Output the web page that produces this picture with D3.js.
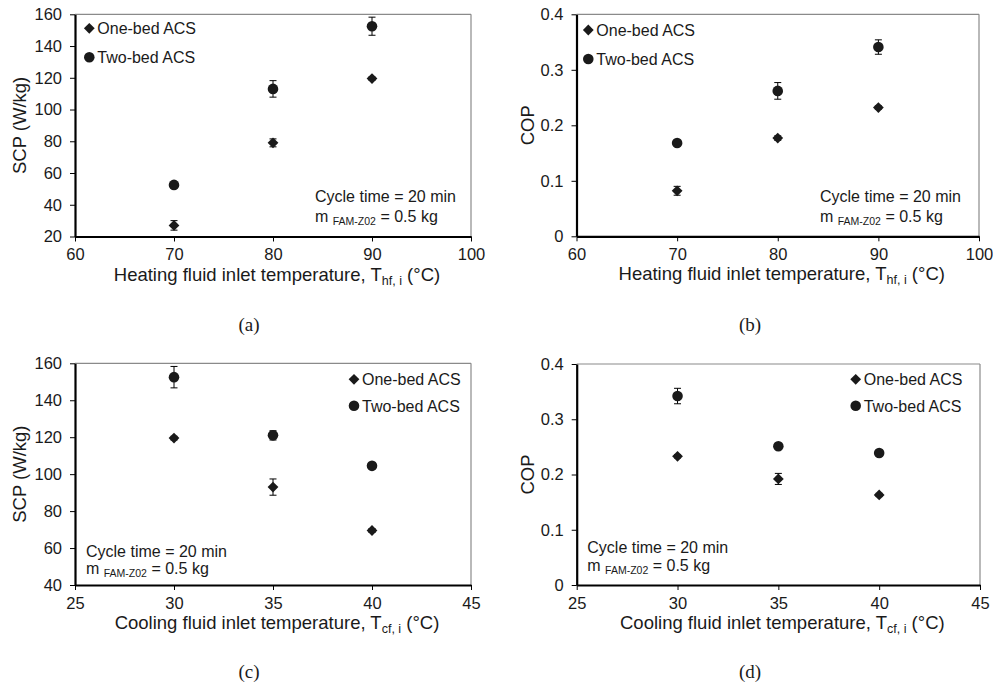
<!DOCTYPE html>
<html>
<head>
<meta charset="utf-8">
<script src="https://cdn.jsdelivr.net/npm/d3@7"></script>
<style>
  body { margin: 0; background: #fff; }
  svg { display: block; font-family: "Liberation Sans", Arial, sans-serif; }
  .tick text { fill: #1a1a1a; }
</style>
</head>
<body>
<div class="chart"></div>
<script>

var svgWidth = 993;
var svgHeight = 686;

// data
var seriesNames = ["One-bed ACS", "Two-bed ACS"];

var heatTemp = [70, 80, 90];
var coolTemp = [30, 35, 40];

var heatTicks = [60, 70, 80, 90, 100];
var coolTicks = [25, 30, 35, 40, 45];
var scpHeatTicks = [20, 40, 60, 80, 100, 120, 140, 160];
var scpCoolTicks = [40, 60, 80, 100, 120, 140, 160];
var copTicks = [0, 0.1, 0.2, 0.3, 0.4];
var copTickLabels = ["0", "0.1", "0.2", "0.3", "0.4"];

var scpHeatOne = [27, 79, 119.5];
var scpHeatOneErr = [3, 2.5, 1];
var scpHeatTwo = [52.5, 113, 152.5];
var scpHeatTwoErr = [1, 5.2, 5.7];

var copHeatOne = [0.082, 0.177, 0.232];
var copHeatOneErr = [0.008, 0.004, 0.003];
var copHeatTwo = [0.168, 0.262, 0.341];
var copHeatTwoErr = [0.003, 0.015, 0.013];

var scpCoolOne = [119.5, 93, 69.5];
var scpCoolOneErr = [1, 4.4, 1];
var scpCoolTwo = [152.5, 121, 104.5];
var scpCoolTwoErr = [5.8, 2.5, 1];

var copCoolOne = [0.233, 0.192, 0.163];
var copCoolOneErr = [0.003, 0.01, 0.003];
var copCoolTwo = [0.342, 0.251, 0.239];
var copCoolTwoErr = [0.014, 0.004, 0.003];

var heatTitle = ["Heating fluid inlet temperature, T", "hf, i", " (\u00B0C)"];
var coolTitle = ["Cooling fluid inlet temperature, T", "cf, i", " (\u00B0C)"];

var panels = [
  {label: "(a)", x0: 75, x1: 471, y0: 14.3, y1: 236.5,
   xDomain: [60, 100], xTicks: heatTicks, yDomain: [20, 160], yTicks: scpHeatTicks, yLabels: null,
   xs: heatTemp, one: scpHeatOne, oneErr: scpHeatOneErr, two: scpHeatTwo, twoErr: scpHeatTwoErr,
   xTitle: heatTitle, yTitle: "SCP (W/kg)", yTitleX: 20,
   leg: [89.3, 28.3, 57.3], ann: [315, 201.5, 221.5], tag: [249, 331]},
  {label: "(b)", x0: 576.5, x1: 979, y0: 14.3, y1: 236.3,
   xDomain: [60, 100], xTicks: heatTicks, yDomain: [0, 0.4], yTicks: copTicks, yLabels: copTickLabels,
   xs: heatTemp, one: copHeatOne, oneErr: copHeatOneErr, two: copHeatTwo, twoErr: copHeatTwoErr,
   xTitle: heatTitle, yTitle: "COP", yTitleX: 528,
   leg: [588.3, 30, 59], ann: [820, 201.5, 221.5], tag: [750, 331]},
  {label: "(c)", x0: 75, x1: 471, y0: 363.3, y1: 585,
   xDomain: [25, 45], xTicks: coolTicks, yDomain: [40, 160], yTicks: scpCoolTicks, yLabels: null,
   xs: coolTemp, one: scpCoolOne, oneErr: scpCoolOneErr, two: scpCoolTwo, twoErr: scpCoolTwoErr,
   xTitle: coolTitle, yTitle: "SCP (W/kg)", yTitleX: 20,
   leg: [354, 379.3, 405.7], ann: [86, 556.5, 574], tag: [249, 678]},
  {label: "(d)", x0: 576.7, x1: 980, y0: 364, y1: 585,
   xDomain: [25, 45], xTicks: coolTicks, yDomain: [0, 0.4], yTicks: copTicks, yLabels: copTickLabels,
   xs: coolTemp, one: copCoolOne, oneErr: copCoolOneErr, two: copCoolTwo, twoErr: copCoolTwoErr,
   xTitle: coolTitle, yTitle: "COP", yTitleX: 528,
   leg: [855.7, 379.3, 405.7], ann: [587.3, 553, 570.5], tag: [750, 678]}
];

var svg = d3.select(".chart")
    .append("svg")
    .attr("width", svgWidth)
    .attr("height", svgHeight);

var diamond = d3.symbol().type(d3.symbolSquare).size(58);
var dot = d3.symbol().type(d3.symbolCircle).size(88);
var ink = "#1a1a1a";

function drawMarker(g, kind, x, y) {
    g.append("path")
        .attr("d", kind == 0 ? diamond() : dot())
        .attr("transform", "translate(" + x + "," + y + ")" + (kind == 0 ? " rotate(45)" : ""))
        .attr("fill", ink);
}

panels.forEach(function(p) {
    var g = svg.append("g");

    var xScale = d3.scaleLinear().domain(p.xDomain).range([p.x0, p.x1]);
    var yScale = d3.scaleLinear().domain(p.yDomain).range([p.y1, p.y0]);

    // grey frame on top and right
    g.append("line")
        .attr("x1", p.x0).attr("x2", p.x1)
        .attr("y1", yScale(p.yDomain[1])).attr("y2", yScale(p.yDomain[1]))
        .attr("stroke", "#8a8a8a").attr("stroke-width", 1.2);
    g.append("line")
        .attr("x1", p.x1).attr("x2", p.x1)
        .attr("y1", p.y0).attr("y2", p.y1)
        .attr("stroke", "#8a8a8a").attr("stroke-width", 1.2);

    var bottomAxis = d3.axisBottom(xScale)
        .tickValues(p.xTicks)
        .tickFormat(d3.format("d"))
        .tickSize(5).tickSizeOuter(0).tickPadding(7);

    var leftAxis = d3.axisLeft(yScale)
        .tickValues(p.yTicks)
        .tickSize(5).tickSizeOuter(0).tickPadding(8);
    if (p.yLabels) {
        leftAxis.tickFormat(function(d, i) { return p.yLabels[i]; });
    } else {
        leftAxis.tickFormat(d3.format("d"));
    }

    var xg = g.append("g")
        .attr("transform", "translate(0," + p.y1 + ")")
        .call(bottomAxis);
    var yg = g.append("g")
        .attr("transform", "translate(" + p.x0 + ",0)")
        .call(leftAxis);

    [xg, yg].forEach(function(a) {
        a.selectAll("text").attr("font-size", "16.5px").attr("font-family", "Liberation Sans, Arial, sans-serif");
        a.selectAll(".tick line").attr("stroke", "#000").attr("stroke-width", 1);
        a.select(".domain").attr("stroke", "#000").attr("stroke-width", 2.2);
    });

    // x axis title with subscript
    var xt = g.append("text")
        .attr("x", (p.x0 + p.x1) / 2 + 4)
        .attr("y", p.y1 + 44)
        .attr("text-anchor", "middle")
        .attr("font-size", "18.5px")
        .attr("fill", ink);
    xt.append("tspan").text(p.xTitle[0]);
    xt.append("tspan").attr("font-size", "12.5px").attr("dy", 4).text(p.xTitle[1]);
    xt.append("tspan").attr("dy", -4).text(p.xTitle[2]);

    // y axis title
    g.append("text")
        .attr("transform", "translate(" + p.yTitleX + "," + (p.y0 + p.y1) / 2 + ") rotate(-90)")
        .attr("text-anchor", "middle")
        .attr("dy", "0.35em")
        .attr("font-size", "18.5px")
        .attr("fill", ink)
        .text(p.yTitle);

    // error bars
    var series = [
        {vals: p.one, err: p.oneErr},
        {vals: p.two, err: p.twoErr}
    ];
    series.forEach(function(s, k) {
        s.vals.forEach(function(v, i) {
            var cx = xScale(p.xs[i]);
            var hi = yScale(v + s.err[i]);
            var lo = yScale(v - s.err[i]);
            g.append("line").attr("x1", cx).attr("x2", cx).attr("y1", hi).attr("y2", lo)
                .attr("stroke", "#000").attr("stroke-width", 1);
            [hi, lo].forEach(function(yy) {
                g.append("line").attr("x1", cx - 3.5).attr("x2", cx + 3.5).attr("y1", yy).attr("y2", yy)
                    .attr("stroke", "#000").attr("stroke-width", 1);
            });
        });
    });

    // markers
    series.forEach(function(s, k) {
        s.vals.forEach(function(v, i) {
            drawMarker(g, k, xScale(p.xs[i]), yScale(v));
        });
    });

    // legend
    seriesNames.forEach(function(name, k) {
        var ly = p.leg[1 + k];
        drawMarker(g, k, p.leg[0], ly);
        g.append("text")
            .attr("x", p.leg[0] + 8)
            .attr("y", ly + 6)
            .attr("font-size", "16px")
            .attr("fill", ink)
            .text(name);
    });

    // annotation
    g.append("text")
        .attr("x", p.ann[0]).attr("y", p.ann[1])
        .attr("font-size", "16px").attr("fill", ink)
        .text("Cycle time = 20 min");
    var an = g.append("text")
        .attr("x", p.ann[0]).attr("y", p.ann[2])
        .attr("font-size", "16px").attr("fill", ink);
    an.append("tspan").text("m ");
    an.append("tspan").attr("font-size", "10.5px").attr("dy", 3).text("FAM-Z02");
    an.append("tspan").attr("dy", -3).text(" = 0.5 kg");

    // panel tag
    g.append("text")
        .attr("x", p.tag[0]).attr("y", p.tag[1])
        .attr("text-anchor", "middle")
        .attr("font-family", "Liberation Serif, Times New Roman, serif")
        .attr("font-size", "19px")
        .attr("fill", ink)
        .text(p.label);
});

</script>
</body>
</html>
